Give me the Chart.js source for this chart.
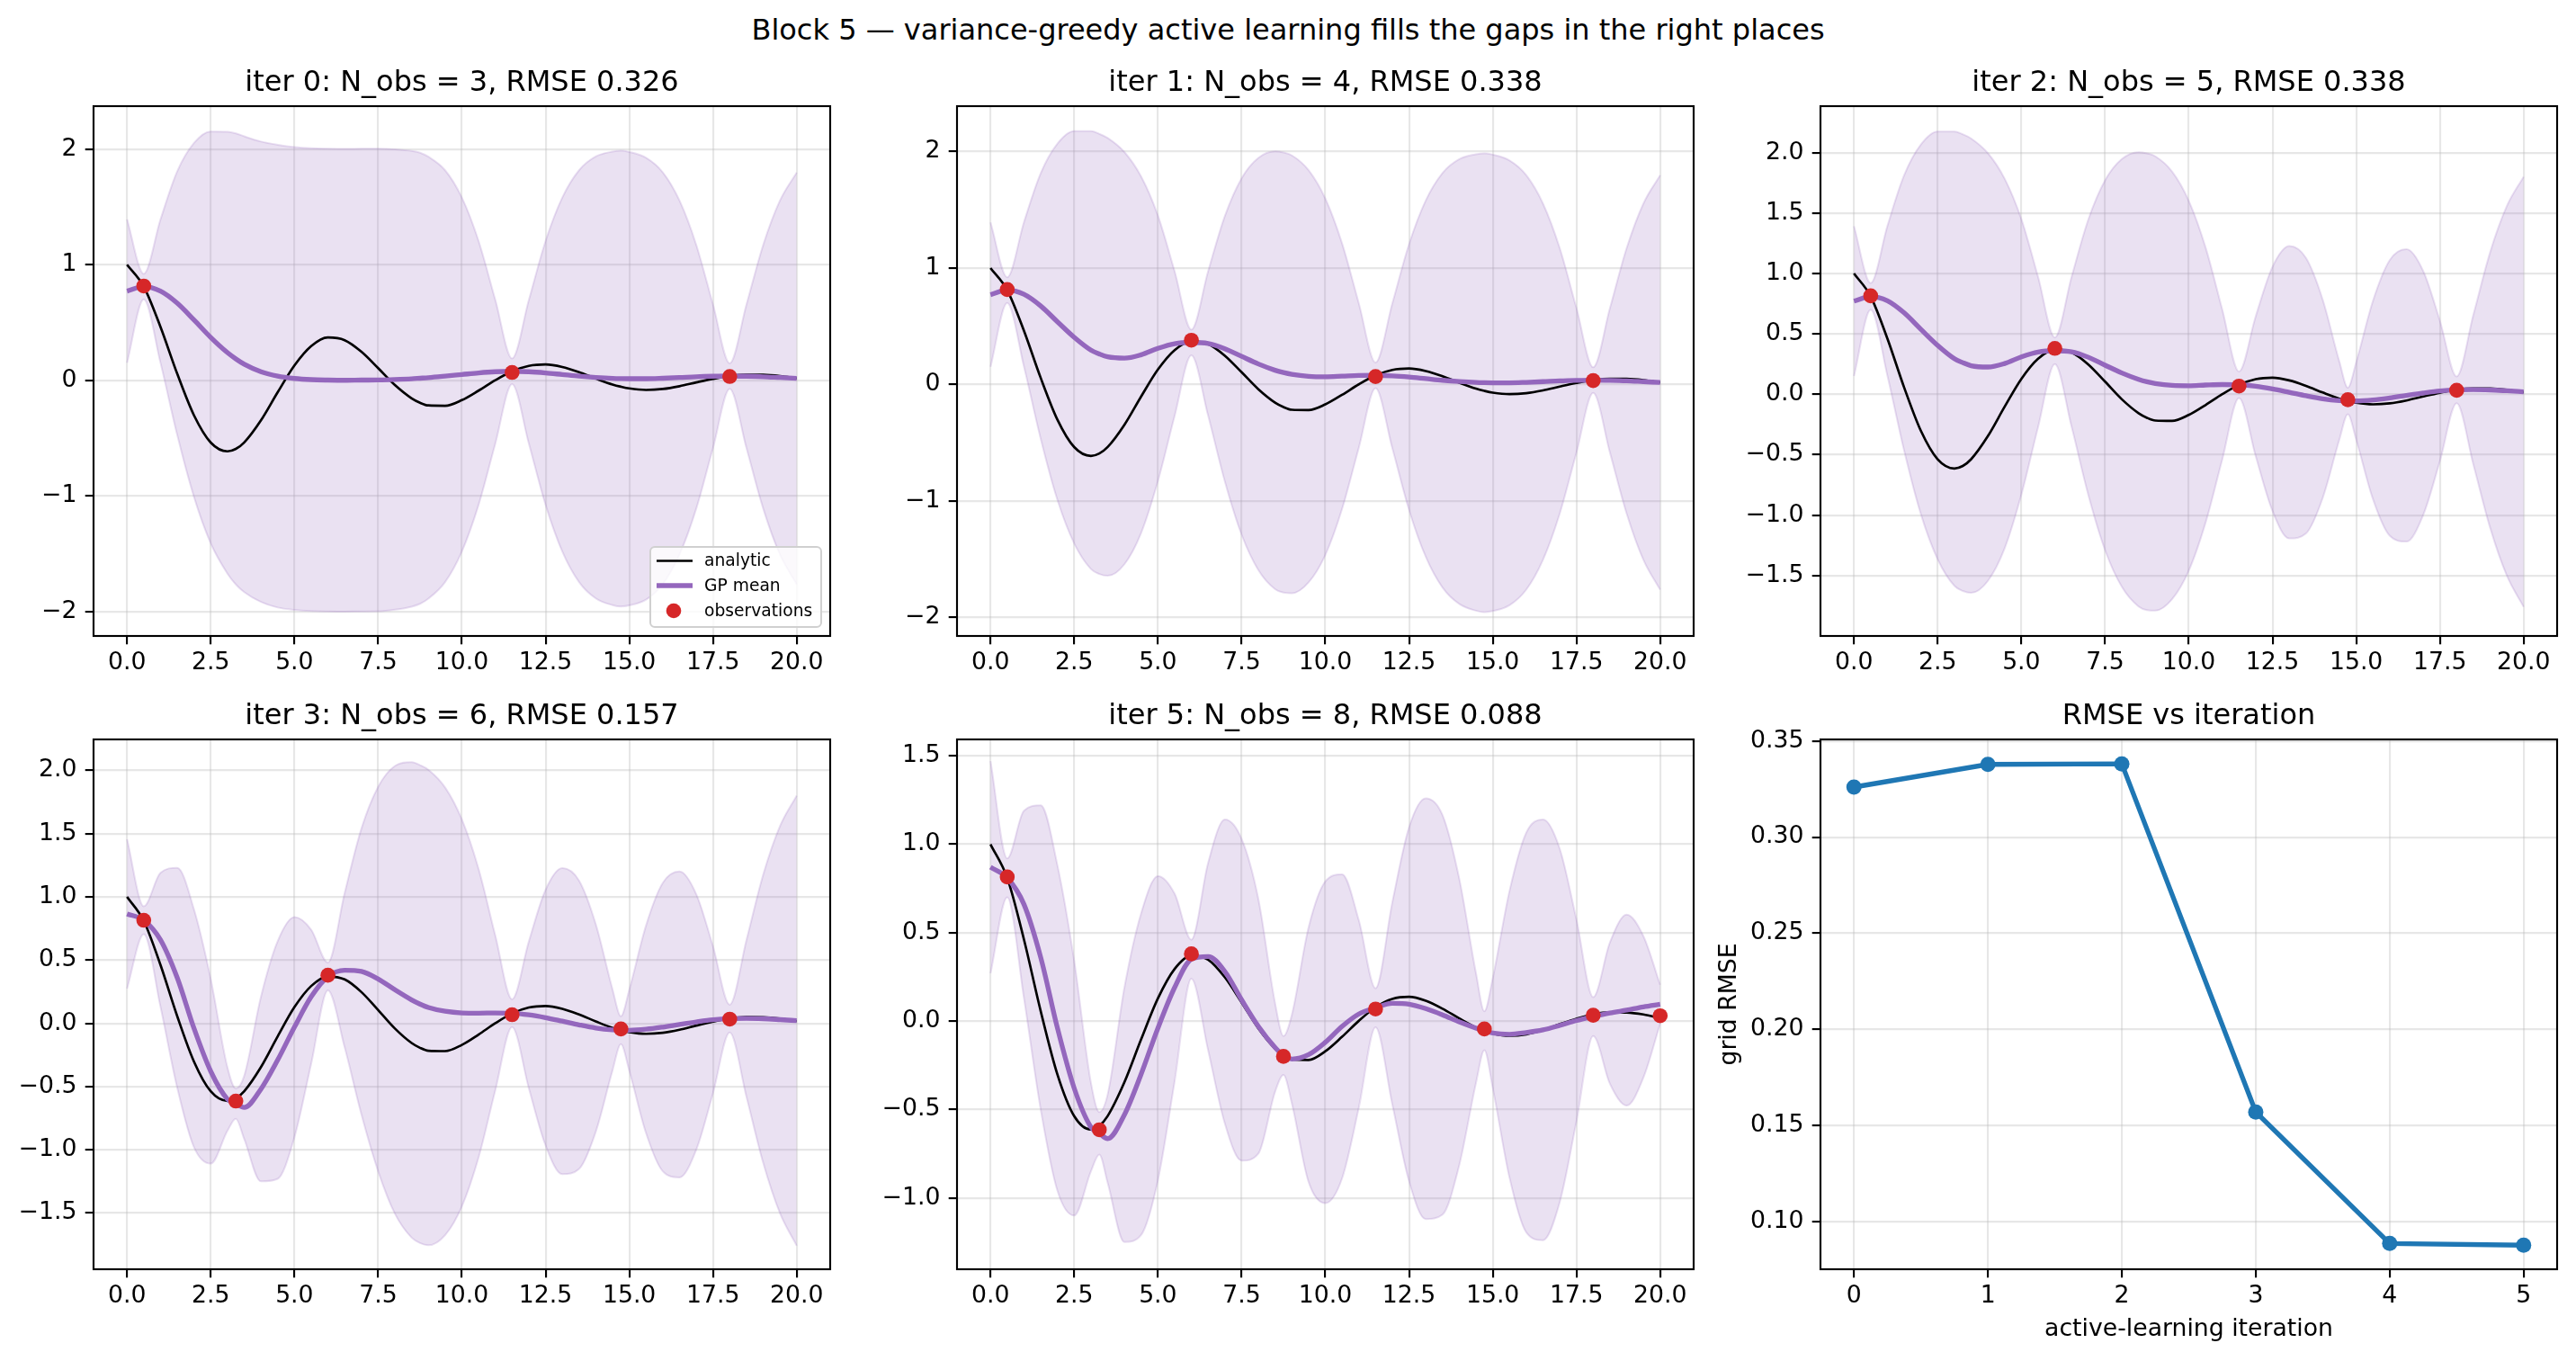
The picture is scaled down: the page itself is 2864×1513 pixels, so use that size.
<!DOCTYPE html>
<html>
<head>
<meta charset="utf-8">
<script src="https://cdn.jsdelivr.net/npm/chart.js@4.4.1/dist/chart.umd.min.js"></script>
<style>
  html, body { margin: 0; padding: 0; background: #fff; }
  #fig { position: relative; width: 2864px; height: 1513px; overflow: hidden; font-family: 'DejaVu Sans', sans-serif; }
  #suptitle { position: absolute; left: 0; top: 13px; width: 2864px; text-align: center; font-size: 32px; line-height: 40px; color: #000; }
  #fig canvas { position: absolute; }
</style>
</head>
<body>
<div id="fig">
  <div id="suptitle">Block 5 — variance-greedy active learning fills the gaps in the right places</div>
</div>
<script>
// ---- data ----
const xGrid = [0, 0.5, 1, 1.5, 2, 2.5, 3, 3.25, 3.5, 4, 4.5, 5, 5.5, 6, 6.5, 7, 7.5, 8, 8.5, 8.75, 9, 9.5, 10, 10.5, 11, 11.5, 12, 12.5, 13, 13.5, 14, 14.5, 14.75, 15, 15.5, 16, 16.5, 17, 17.5, 18, 18.5, 19, 19.5, 20];

const analytic = [1.000, 0.810, 0.461, 0.056, -0.303, -0.538, -0.614, -0.593, -0.537, -0.346, -0.103, 0.128, 0.295, 0.370, 0.347, 0.247, 0.105, -0.041, -0.156, -0.194, -0.217, -0.220, -0.171, -0.089, 0.001, 0.078, 0.125, 0.137, 0.115, 0.070, 0.015, -0.036, -0.055, -0.070, -0.083, -0.075, -0.051, -0.018, 0.013, 0.038, 0.049, 0.048, 0.037, 0.017];

// GP mean and 2-sigma half width, one pair per shown iteration
const gpMean0 = [0.771, 0.810, 0.771, 0.667, 0.522, 0.371, 0.239, 0.185, 0.139, 0.074, 0.036, 0.016, 0.006, 0.002, 0.000, 0.002, 0.003, 0.007, 0.013, 0.018, 0.023, 0.036, 0.050, 0.064, 0.074, 0.078, 0.074, 0.064, 0.050, 0.036, 0.025, 0.017, 0.015, 0.014, 0.014, 0.018, 0.024, 0.031, 0.035, 0.037, 0.035, 0.031, 0.024, 0.017];
const gpBand0 = [0.62, 0.11, 0.62, 1.14, 1.53, 1.78, 1.91, 1.95, 1.97, 1.99, 2.00, 2.00, 2.00, 2.00, 2.00, 2.00, 2.00, 1.99, 1.97, 1.95, 1.91, 1.78, 1.53, 1.14, 0.62, 0.11, 0.62, 1.14, 1.53, 1.78, 1.91, 1.96, 1.97, 1.96, 1.91, 1.78, 1.53, 1.14, 0.62, 0.11, 0.62, 1.14, 1.53, 1.78];

const gpMean1 = [0.771, 0.810, 0.774, 0.674, 0.538, 0.405, 0.295, 0.262, 0.237, 0.226, 0.255, 0.310, 0.350, 0.360, 0.352, 0.307, 0.241, 0.176, 0.122, 0.102, 0.087, 0.070, 0.066, 0.071, 0.077, 0.078, 0.074, 0.064, 0.050, 0.036, 0.025, 0.017, 0.015, 0.014, 0.014, 0.018, 0.024, 0.031, 0.035, 0.037, 0.035, 0.031, 0.024, 0.017];
const gpBand1 = [0.62, 0.11, 0.62, 1.14, 1.53, 1.77, 1.88, 1.89, 1.88, 1.77, 1.53, 1.14, 0.62, 0.11, 0.62, 1.14, 1.53, 1.77, 1.88, 1.89, 1.88, 1.77, 1.53, 1.14, 0.62, 0.11, 0.62, 1.14, 1.53, 1.78, 1.91, 1.96, 1.97, 1.96, 1.91, 1.78, 1.53, 1.14, 0.62, 0.11, 0.62, 1.14, 1.53, 1.78];

const gpMean2 = [0.771, 0.810, 0.774, 0.674, 0.538, 0.405, 0.295, 0.262, 0.237, 0.226, 0.255, 0.310, 0.350, 0.360, 0.352, 0.307, 0.241, 0.177, 0.124, 0.104, 0.090, 0.074, 0.071, 0.077, 0.081, 0.079, 0.067, 0.045, 0.017, -0.012, -0.037, -0.052, -0.055, -0.055, -0.047, -0.030, -0.009, 0.011, 0.028, 0.037, 0.039, 0.036, 0.029, 0.021];
const gpBand2 = [0.62, 0.11, 0.62, 1.14, 1.53, 1.77, 1.88, 1.89, 1.88, 1.77, 1.53, 1.14, 0.62, 0.11, 0.62, 1.14, 1.53, 1.77, 1.88, 1.89, 1.88, 1.77, 1.53, 1.14, 0.62, 0.11, 0.58, 1.01, 1.21, 1.14, 0.82, 0.32, 0.11, 0.32, 0.82, 1.14, 1.21, 1.01, 0.58, 0.11, 0.62, 1.14, 1.53, 1.78];

const gpMean3 = [0.865, 0.815, 0.660, 0.360, -0.040, -0.380, -0.600, -0.635, -0.665, -0.520, -0.290, -0.030, 0.210, 0.370, 0.420, 0.410, 0.350, 0.265, 0.185, 0.152, 0.125, 0.095, 0.082, 0.080, 0.082, 0.080, 0.067, 0.045, 0.017, -0.012, -0.037, -0.052, -0.055, -0.055, -0.047, -0.030, -0.009, 0.011, 0.028, 0.037, 0.039, 0.036, 0.029, 0.021];
const gpBand3 = [0.59, 0.11, 0.53, 0.87, 0.94, 0.73, 0.25, 0.12, 0.25, 0.73, 0.94, 0.87, 0.53, 0.11, 0.61, 1.13, 1.52, 1.77, 1.88, 1.89, 1.88, 1.77, 1.53, 1.14, 0.61, 0.11, 0.58, 1.01, 1.21, 1.14, 0.82, 0.32, 0.11, 0.32, 0.82, 1.14, 1.21, 1.01, 0.58, 0.11, 0.62, 1.14, 1.53, 1.78];

const gpMean5 = [0.870, 0.810, 0.660, 0.360, -0.040, -0.380, -0.600, -0.635, -0.665, -0.530, -0.300, -0.040, 0.190, 0.350, 0.365, 0.280, 0.120, -0.030, -0.150, -0.195, -0.215, -0.190, -0.120, -0.030, 0.040, 0.075, 0.100, 0.095, 0.070, 0.035, -0.005, -0.040, -0.055, -0.068, -0.075, -0.065, -0.050, -0.025, 0.003, 0.025, 0.045, 0.062, 0.080, 0.095];
const gpBand5 = [0.60, 0.11, 0.53, 0.86, 0.92, 0.72, 0.25, 0.12, 0.25, 0.72, 0.91, 0.86, 0.53, 0.11, 0.53, 0.86, 0.91, 0.72, 0.25, 0.11, 0.25, 0.72, 0.91, 0.86, 0.53, 0.11, 0.57, 1.00, 1.19, 1.13, 0.81, 0.31, 0.11, 0.31, 0.81, 1.13, 1.19, 1.00, 0.57, 0.11, 0.40, 0.54, 0.40, 0.11];

// observations in the order they were acquired
const obsX = [0.5, 11.5, 18, 6, 14.75, 3.25, 8.75, 20];
const obsY = [0.815, 0.068, 0.033, 0.38, -0.045, -0.615, -0.20, 0.03];

const panelIters = [0, 1, 2, 3, 5];
const panelNobs = [3, 4, 5, 6, 8];

const alIters = [0, 1, 2, 3, 4, 5];
const rmseVals = [0.326, 0.3378, 0.3381, 0.157, 0.0886, 0.0877];

const xTicks = [0, 2.5, 5, 7.5, 10, 12.5, 15, 17.5, 20];
const yTicksWide = [-2, -1, 0, 1, 2];
const yTicksHalf = [-1.5, -1, -0.5, 0, 0.5, 1, 1.5, 2];
const yTicksLast = [-1, -0.5, 0, 0.5, 1, 1.5];
const rmseTicks = [0.10, 0.15, 0.20, 0.25, 0.30, 0.35];

const gpMeans = [gpMean0, gpMean1, gpMean2, gpMean3, gpMean5];
const gpBands = [gpBand0, gpBand1, gpBand2, gpBand3, gpBand5];

// ---- layout / style ----
const FONT = "'DejaVu Sans', sans-serif";
const PT = 75, PB = 110, PR = 30;
const colLeft = [104, 1064, 2024];
const rowTop = [118, 822];
const plotW = 819, plotH = 589;
const PURPLE = '#9467bd';
const BAND = 'rgba(148, 103, 189, 0.2)';

Chart.defaults.font.family = FONT;
Chart.defaults.color = '#000';

const fig = document.getElementById('fig');

function makeCanvas(col, row, padL) {
    const c = document.createElement('canvas');
    const W = padL + plotW + PR, H = PT + plotH + PB;
    c.width = W; c.height = H;
    c.style.width = W + 'px';
    c.style.height = H + 'px';
    c.style.left = (colLeft[col] - padL) + 'px';
    c.style.top = (rowTop[row] - PT) + 'px';
    fig.appendChild(c);
    return c;
}

function fmt(v, dec) {
    const s = Math.abs(v).toFixed(dec);
    return (v < -1e-9 ? '\u2212' : '') + s;
}

function axis(pos, min, max, ticks, dec, size) {
    const horiz = pos === 'bottom';
    return {
        type: 'linear',
        position: pos,
        min: min,
        max: max,
        afterBuildTicks: s => { s.ticks = ticks.map(v => ({ value: v })); },
        afterFit: s => {
            if (horiz) s.height = size; else s.width = size;
            s.paddingLeft = 0; s.paddingRight = 0; s.paddingTop = 0; s.paddingBottom = 0;
        },
        grid: { color: 'rgba(176,176,176,0.3)', lineWidth: 2.13, drawTicks: true, tickLength: 9.3, tickColor: '#000', tickWidth: 2.13 },
        border: { display: false },
        ticks: {
            font: { family: FONT, size: 26.7 },
            color: '#000',
            padding: horiz ? 5 : 9.3,
            maxRotation: 0,
            autoSkip: false,
            callback: v => fmt(v, dec)
        }
    };
}

function titleOpts(text) {
    return {
        display: true,
        text: text,
        fullSize: false,
        color: '#000',
        font: { family: FONT, size: 32, weight: 'normal' },
        padding: { top: 30.3, bottom: 6.3 }
    };
}

// axes frame (all four spines)
const frame = {
    id: 'frame',
    afterDatasetsDraw(chart) {
        const { ctx, chartArea: a } = chart;
        ctx.save();
        ctx.strokeStyle = '#000';
        ctx.lineWidth = 2.13;
        ctx.strokeRect(a.left, a.top, a.right - a.left, a.bottom - a.top);
        ctx.restore();
    }
};

// legend in the lower right of the first panel
const legendLabels = ['analytic', 'GP mean', 'observations'];
const gpLegend = {
    id: 'gpLegend',
    afterDraw(chart) {
        const { ctx, chartArea: a } = chart;
        const w = 190, h = 89;
        const bx = a.right - 10 - w, by = a.bottom - 10 - h, r = 5;
        ctx.save();
        ctx.beginPath();
        ctx.moveTo(bx + r, by);
        ctx.arcTo(bx + w, by, bx + w, by + h, r);
        ctx.arcTo(bx + w, by + h, bx, by + h, r);
        ctx.arcTo(bx, by + h, bx, by, r);
        ctx.arcTo(bx, by, bx + w, by, r);
        ctx.closePath();
        ctx.fillStyle = 'rgba(255,255,255,0.8)';
        ctx.fill();
        ctx.strokeStyle = '#d0d0d0';
        ctx.lineWidth = 2;
        ctx.stroke();

        const rowY = [15.5, 43, 71];
        ctx.font = '18.7px ' + FONT;
        ctx.textBaseline = 'middle';
        ctx.textAlign = 'left';
        legendLabels.forEach((lbl, i) => {
            const d = chart.data.datasets.find(ds => ds.label === lbl);
            const cy = by + rowY[i];
            if (d.showLine === false) {
                ctx.beginPath();
                ctx.arc(bx + 26, cy, d.pointRadius, 0, Math.PI * 2);
                ctx.fillStyle = d.pointBackgroundColor;
                ctx.fill();
            } else {
                ctx.beginPath();
                ctx.moveTo(bx + 7, cy);
                ctx.lineTo(bx + 47, cy);
                ctx.strokeStyle = d.borderColor;
                ctx.lineWidth = d.borderWidth;
                ctx.stroke();
            }
            ctx.fillStyle = '#000';
            ctx.fillText(lbl, bx + 60, cy + 1);
        });
        ctx.restore();
    }
};

const gpPanels = [
    { col: 0, row: 0, yMin: -2.21, yMax: 2.37, yTicks: yTicksWide, dec: 0, legend: true },
    { col: 1, row: 0, yMin: -2.16, yMax: 2.39, yTicks: yTicksWide, dec: 0 },
    { col: 2, row: 0, yMin: -2.0, yMax: 2.385, yTicks: yTicksHalf, dec: 1 },
    { col: 0, row: 1, yMin: -1.945, yMax: 2.245, yTicks: yTicksHalf, dec: 1 },
    { col: 1, row: 1, yMin: -1.404, yMax: 1.593, yTicks: yTicksLast, dec: 1 }
];

gpPanels.forEach((p, k) => {
    const mean = gpMeans[k], band = gpBands[k], n = panelNobs[k];
    const canvas = makeCanvas(p.col, p.row, 100);
    const title = 'iter ' + panelIters[k] + ': N_obs = ' + n + ', RMSE ' + rmseVals[panelIters[k]].toFixed(3);

    new Chart(canvas.getContext('2d'), {
        type: 'line',
        data: {
            datasets: [
                {
                    label: 'observations',
                    data: obsX.slice(0, n).map((x, i) => ({ x: x, y: obsY[i] })),
                    showLine: false,
                    pointRadius: 8.3,
                    pointHoverRadius: 8.3,
                    pointBackgroundColor: '#d62728',
                    pointBorderWidth: 0,
                    borderColor: '#d62728',
                    backgroundColor: '#d62728',
                    order: 0
                },
                {
                    label: 'GP mean',
                    data: xGrid.map((x, i) => ({ x: x, y: mean[i] })),
                    borderColor: PURPLE,
                    borderWidth: 5.33,
                    pointRadius: 0,
                    cubicInterpolationMode: 'monotone',
                    order: 1
                },
                {
                    label: 'analytic',
                    data: xGrid.map((x, i) => ({ x: x, y: analytic[i] })),
                    borderColor: '#000',
                    borderWidth: 2.67,
                    pointRadius: 0,
                    cubicInterpolationMode: 'monotone',
                    order: 2
                },
                {
                    label: 'band upper',
                    data: xGrid.map((x, i) => ({ x: x, y: mean[i] + band[i] })),
                    borderColor: BAND,
                    borderWidth: 2,
                    backgroundColor: BAND,
                    fill: '+1',
                    pointRadius: 0,
                    cubicInterpolationMode: 'monotone',
                    order: 3
                },
                {
                    label: 'band lower',
                    data: xGrid.map((x, i) => ({ x: x, y: mean[i] - band[i] })),
                    borderColor: BAND,
                    borderWidth: 2,
                    fill: false,
                    pointRadius: 0,
                    cubicInterpolationMode: 'monotone',
                    order: 4
                }
            ]
        },
        options: {
            responsive: false,
            devicePixelRatio: 1,
            animation: false,
            events: [],
            layout: { padding: { left: 0, right: PR, top: 0, bottom: 0 } },
            plugins: {
                legend: { display: false },
                tooltip: { enabled: false },
                title: titleOpts(title)
            },
            scales: {
                x: axis('bottom', -1, 21, xTicks, 1, PB),
                y: axis('left', p.yMin, p.yMax, p.yTicks, p.dec, 100)
            }
        },
        plugins: p.legend ? [frame, gpLegend] : [frame]
    });
});

// RMSE vs iteration
(function () {
    const padL = 125;
    const canvas = makeCanvas(2, 1, padL);
    const xAx = axis('bottom', -0.25, 5.25, alIters, 0, PB);
    xAx.title = { display: true, text: 'active-learning iteration', color: '#000', font: { family: FONT, size: 26.7 }, padding: { top: 0, bottom: 27 } };
    const yAx = axis('left', 0.0752, 0.3508, rmseTicks, 2, padL);
    yAx.title = { display: true, text: 'grid RMSE', color: '#000', font: { family: FONT, size: 26.7 }, padding: { top: 8, bottom: 0 } };

    new Chart(canvas.getContext('2d'), {
        type: 'line',
        data: {
            datasets: [{
                label: 'grid RMSE',
                data: alIters.map((x, i) => ({ x: x, y: rmseVals[i] })),
                borderColor: '#1f77b4',
                backgroundColor: '#1f77b4',
                borderWidth: 5.33,
                pointRadius: 8.5,
                pointHoverRadius: 8.5,
                pointBackgroundColor: '#1f77b4',
                pointBorderWidth: 0,
                tension: 0
            }]
        },
        options: {
            responsive: false,
            devicePixelRatio: 1,
            animation: false,
            events: [],
            layout: { padding: { left: 0, right: PR, top: 0, bottom: 0 } },
            plugins: {
                legend: { display: false },
                tooltip: { enabled: false },
                title: titleOpts('RMSE vs iteration')
            },
            scales: { x: xAx, y: yAx }
        },
        plugins: [frame]
    });
})();
</script>
</body>
</html>
